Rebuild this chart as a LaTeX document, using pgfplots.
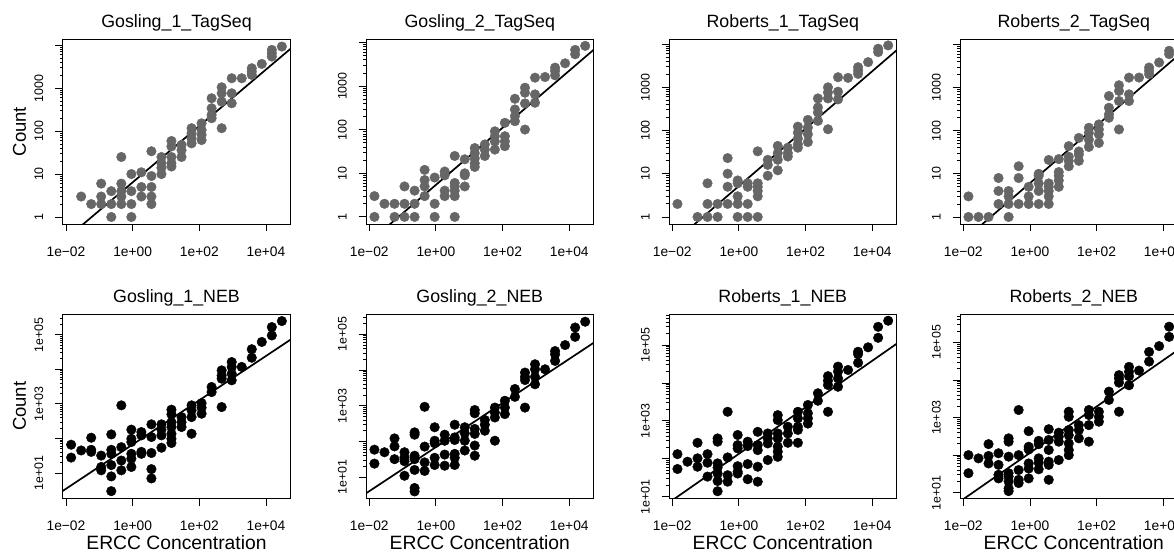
\documentclass[border=0pt]{standalone}
\usepackage{pgfplots}
\pgfplotsset{compat=1.18}
\usepackage{fontspec}
\setmainfont{Liberation Sans}
\definecolor{dotgray}{HTML}{666666}

\pgfplotsset{
  /pgfplots/erccaxis/.style={
    /pgfplots/scale only axis, /pgfplots/width=227.6pt,
    /pgfplots/xmin=0.00798, /pgfplots/xmax=53700,
    /pgfplots/xtick={0.01,1,100,10000},
    /pgfplots/xticklabels={1e−02,1e+00,1e+02,1e+04},
    /pgfplots/minor xtick={}, /pgfplots/minor ytick={},
    /pgfplots/tick align=outside, /pgfplots/tick pos=left,
    /pgfplots/major tick length=7.5pt,
    /pgfplots/every tick/.append style={black, line width=0.9pt},
    /pgfplots/axis line style={line width=0.9pt},
    /pgfplots/xticklabel style={font=\fontsize{13.8}{16}\selectfont, anchor=base, yshift=-25pt},
    /pgfplots/yticklabel style={font=\fontsize{12.4}{15}\selectfont, anchor=base, xshift=-12pt, rotate=90},
    /pgfplots/title style={font=\fontsize{17.8}{20}\selectfont, at={(0.5,1)}, anchor=base, yshift=5.5pt, inner sep=0pt},
    /pgfplots/xlabel style={font=\fontsize{19.3}{22}\selectfont, at={(0.5,0)}, anchor=base, yshift=-51.5pt},
    /pgfplots/ylabel style={font=\fontsize{18.5}{22}\selectfont, at={(0,0.5)}, anchor=base, yshift=36.7pt},
  },
}

\begin{document}
\begin{tikzpicture}

% ---------- TagSeq row ----------
\begin{loglogaxis}[erccaxis, height=184.7pt, ymin=0.687, ymax=13800,
  ytick={1,10,100,1000,10000}, yticklabels={1,10,100,1000,{}},
  at={(62.7pt,328pt)}, anchor=south west,
  title={Gosling\_1\_TagSeq}, ylabel={Count}]
\addplot[only marks, mark=*, mark size=4.8pt, color=dotgray] coordinates {
(0.0286,3) (0.0572,2)
(0.114,6) (0.114,3) (0.114,2)
(0.229,4) (0.229,2) (0.229,1)
(0.458,25) (0.458,6) (0.458,4) (0.458,3) (0.458,2)
(0.916,10) (0.916,4) (0.916,2) (0.916,1)
(1.83,11) (1.83,5) (1.83,3)
(3.66,34) (3.66,9) (3.66,5) (3.66,3) (3.66,2)
(7.32,25) (7.32,18) (7.32,14) (7.32,10)
(14.6,59) (14.6,44) (14.6,25) (14.6,18) (14.6,15)
(29.3,48) (29.3,36) (29.3,25)
(58.6,117) (58.6,89) (58.6,68) (58.6,52)
(117,152) (117,107) (117,82) (117,62)
(234,584) (234,341) (234,239) (234,200)
(469,1054) (469,763) (469,488) (469,117)
(938,1708) (938,763) (938,446)
(1875,1708)
(3750,2920) (3750,2443) (3750,2042)
(7500,3680)
(15000,7810) (15000,6530) (15000,5460)
(30000,9340)
};
\addplot[black, line width=1.7pt, no marks] coordinates {(0.005012,0.198) (100000,12360)};
\end{loglogaxis}

\begin{loglogaxis}[erccaxis, height=184.7pt, ymin=0.687, ymax=11900,
  ytick={1,10,100,1000,10000}, yticklabels={1,10,100,1000,{}},
  at={(366pt,328pt)}, anchor=south west,
  title={Gosling\_2\_TagSeq}]
\addplot[only marks, mark=*, mark size=4.8pt, color=dotgray] coordinates {
(0.0143,3) (0.0143,1)
(0.0286,2)
(0.0572,2) (0.0572,1)
(0.114,5) (0.114,2) (0.114,1)
(0.229,4) (0.229,2) (0.229,1)
(0.458,12) (0.458,7) (0.458,5) (0.458,3)
(0.916,8) (0.916,2) (0.916,1)
(1.83,11) (1.83,9) (1.83,4) (1.83,3)
(3.66,25) (3.66,6) (3.66,5) (3.66,4) (3.66,3) (3.66,1)
(7.32,21) (7.32,10) (7.32,9) (7.32,5)
(14.6,38) (14.6,29) (14.6,22) (14.6,17) (14.6,14)
(29.3,46) (29.3,35) (29.3,25)
(58.6,92) (58.6,71) (58.6,54) (58.6,35)
(117,144) (117,71) (117,54) (117,42)
(234,514) (234,292) (234,205) (234,157)
(469,922) (469,707) (469,402) (469,101)
(938,1567) (938,647) (938,416)
(1875,1623)
(3750,2663) (3750,2233) (3750,1774)
(7500,3350)
(15000,6800) (15000,5400)
(30000,8410)
};
\addplot[black, line width=1.7pt, no marks] coordinates {(0.005012,0.1696) (100000,10256)};
\end{loglogaxis}

\begin{loglogaxis}[erccaxis, height=184.7pt, ymin=0.687, ymax=12900,
  ytick={1,10,100,1000,10000}, yticklabels={1,10,100,1000,{}},
  at={(669pt,328pt)}, anchor=south west,
  title={Roberts\_1\_TagSeq}]
\addplot[only marks, mark=*, mark size=4.8pt, color=dotgray] coordinates {
(0.0143,2)
(0.0572,1)
(0.114,6) (0.114,2) (0.114,1)
(0.229,2) (0.229,1)
(0.458,23) (0.458,10) (0.458,5) (0.458,2)
(0.916,7) (0.916,6) (0.916,3) (0.916,2) (0.916,1)
(1.83,6) (1.83,5) (1.83,2) (1.83,1)
(3.66,33) (3.66,6) (3.66,5) (3.66,4) (3.66,3) (3.66,1)
(7.32,21) (7.32,16) (7.32,9)
(14.6,44) (14.6,30) (14.6,21) (14.6,12)
(29.3,40) (29.3,30) (29.3,25)
(58.6,123) (58.6,89) (58.6,65) (58.6,48) (58.6,40)
(117,176) (117,117) (117,82) (117,54)
(234,553) (234,341) (234,261) (234,167)
(469,998) (469,763) (469,553) (469,107)
(938,1708) (938,791) (938,525)
(1875,1650)
(3750,2920) (3750,2443) (3750,2042)
(7500,3820)
(15000,7810) (15000,6530)
(30000,9300)
};
\addplot[black, line width=1.7pt, no marks] coordinates {(0.005012,0.1545) (100000,10864)};
\end{loglogaxis}

\begin{loglogaxis}[erccaxis, height=184.7pt, ymin=0.687, ymax=13180,
  ytick={1,10,100,1000,10000}, yticklabels={1,10,100,1000,{}},
  at={(960pt,328pt)}, anchor=south west,
  title={Roberts\_2\_TagSeq}]
\addplot[only marks, mark=*, mark size=4.8pt, color=dotgray] coordinates {
(0.0143,3) (0.0143,1)
(0.0286,1)
(0.0572,1)
(0.114,8) (0.114,4) (0.114,2)
(0.229,4) (0.229,3) (0.229,2) (0.229,1)
(0.458,15) (0.458,8) (0.458,2)
(0.916,5) (0.916,3) (0.916,2)
(1.83,10) (1.83,9) (1.83,6) (1.83,4) (1.83,2)
(3.66,21) (3.66,6) (3.66,5) (3.66,4) (3.66,3) (3.66,2)
(7.32,22) (7.32,11) (7.32,9) (7.32,7) (7.32,5)
(14.6,44) (14.6,25) (14.6,20) (14.6,15)
(29.3,68) (29.3,33) (29.3,28) (29.3,20)
(58.6,117) (58.6,89) (58.6,62) (58.6,42)
(117,140) (117,107) (117,82) (117,52)
(234,638) (234,341) (234,239) (234,200)
(469,1132) (469,835) (469,488) (469,107)
(938,1700) (938,698) (938,488)
(1875,1708)
(3750,2920) (3750,2443) (3750,2042)
(7500,3820)
(15000,7140) (15000,5970)
(30000,9300)
};
\addplot[black, line width=1.7pt, no marks] coordinates {(0.005012,0.179) (100000,13032)};
\end{loglogaxis}

% ---------- NEB row ----------
\begin{loglogaxis}[erccaxis, height=184pt, ymin=1.862, ymax=389000,
  ytick={10,100,1000,10000,100000,1000000}, yticklabels={1e+01,{},1e+03,{},1e+05,{}},
  at={(62.7pt,53.7pt)}, anchor=south west,
  title={Gosling\_1\_NEB}, ylabel={Count}, xlabel={ERCC Concentration}]
\addplot[only marks, mark=*, mark size=4.8pt, color=black] coordinates {
(0.0143,66) (0.0143,28)
(0.0286,45)
(0.0572,105) (0.0572,47) (0.0572,41)
(0.114,32) (0.114,15) (0.114,12)
(0.229,131) (0.229,47) (0.229,36) (0.229,17) (0.229,8) (0.229,3)
(0.458,906) (0.458,56) (0.458,23) (0.458,12)
(0.916,180) (0.916,98) (0.916,79) (0.916,36) (0.916,26) (0.916,15)
(1.83,153) (1.83,123) (1.83,41) (1.83,36)
(3.66,256) (3.66,110) (3.66,38) (3.66,13) (3.66,7)
(7.32,256) (7.32,180) (7.32,123) (7.32,54)
(14.6,680) (14.6,500) (14.6,295) (14.6,214) (14.6,137) (14.6,98) (14.6,74)
(29.3,415) (29.3,295) (29.3,214)
(58.6,906) (58.6,650) (58.6,415) (58.6,137)
(117,1050) (117,775) (117,520)
(234,3080) (234,2190)
(469,9300) (469,6600) (469,5350) (469,810)
(938,16200) (938,11700) (938,7450) (938,4800)
(1875,11700)
(3750,38000) (3750,21600)
(7500,61700)
(15000,166000) (15000,95000)
(30000,248000)
};
\addplot[black, line width=1.7pt, no marks] coordinates {(0.005012,2.254) (100000,105925)};
\end{loglogaxis}

\begin{loglogaxis}[erccaxis, height=184pt, ymin=2.57, ymax=363000,
  ytick={10,100,1000,10000,100000,1000000}, yticklabels={1e+01,{},1e+03,{},1e+05,{}},
  at={(366pt,53.7pt)}, anchor=south west,
  title={Gosling\_2\_NEB}, xlabel={ERCC Concentration}]
\addplot[only marks, mark=*, mark size=4.8pt, color=black] coordinates {
(0.0143,59) (0.0143,24)
(0.0286,50)
(0.0572,122) (0.0572,73) (0.0572,32)
(0.114,50) (0.114,36) (0.114,28) (0.114,11)
(0.229,180) (0.229,155) (0.229,40) (0.229,32) (0.229,16) (0.229,5) (0.229,4)
(0.458,935) (0.458,72) (0.458,26) (0.458,15)
(0.916,250) (0.916,105) (0.916,89) (0.916,35) (0.916,22)
(1.83,155) (1.83,105) (1.83,43) (1.83,21)
(3.66,295) (3.66,130) (3.66,110) (3.66,45) (3.66,35) (3.66,22)
(7.32,250) (7.32,170) (7.32,105) (7.32,56)
(14.6,760) (14.6,615) (14.6,225) (14.6,163) (14.6,77) (14.6,40)
(29.3,400) (29.3,295) (29.3,200)
(58.6,890) (58.6,645) (58.6,470) (58.6,105)
(117,1380) (117,890) (117,585)
(234,2950) (234,1780)
(469,8500) (469,6450) (469,5250) (469,890)
(938,14500) (938,10500) (938,6450) (938,4000)
(1875,10500)
(3750,34000) (3750,27500) (3750,18000)
(7500,50000)
(15000,155000) (15000,85000)
(30000,225000)
};
\addplot[black, line width=1.7pt, no marks] coordinates {(0.005012,2.654) (100000,84723)};
\end{loglogaxis}

\begin{loglogaxis}[erccaxis, height=184pt, ymin=9.12, ymax=645000,
  ytick={10,100,1000,10000,100000,1000000}, yticklabels={1e+01,{},1e+03,{},1e+05,{}},
  at={(669pt,53.7pt)}, anchor=south west,
  title={Roberts\_1\_NEB}, xlabel={ERCC Concentration}]
\addplot[only marks, mark=*, mark size=4.8pt, color=black] coordinates {
(0.0143,133) (0.0143,54)
(0.0286,84)
(0.0572,265) (0.0572,103) (0.0572,62)
(0.114,133) (0.114,79) (0.114,34)
(0.229,345) (0.229,283) (0.229,76) (0.229,59) (0.229,41) (0.229,26) (0.229,14)
(0.458,1740) (0.458,109) (0.458,37) (0.458,25)
(0.916,425) (0.916,230) (0.916,188) (0.916,64) (0.916,46) (0.916,41)
(1.83,283) (1.83,217) (1.83,73) (1.83,29)
(3.66,515) (3.66,230) (3.66,170) (3.66,62) (3.66,25)
(7.32,466) (7.32,345) (7.32,255) (7.32,93)
(14.6,1420) (14.6,1050) (14.6,466) (14.6,345) (14.6,210) (14.6,155) (14.6,113)
(29.3,700) (29.3,466) (29.3,265)
(58.6,1740) (58.6,1170) (58.6,700) (58.6,578) (58.6,265)
(117,2630) (117,1590) (117,1170) (117,850)
(234,5350) (234,3400)
(469,15100) (469,11500) (469,8850) (469,1740)
(938,27000) (938,20000) (938,13200) (938,7950)
(1875,22000)
(3750,66500) (3750,57500) (3750,34000)
(7500,87000)
(15000,302000) (15000,155000)
(30000,436000)
};
\addplot[black, line width=1.7pt, no marks] coordinates {(0.005012,5.284) (100000,157761)};
\end{loglogaxis}

\begin{loglogaxis}[erccaxis, height=184pt, ymin=7.08, ymax=562000,
  ytick={10,100,1000,10000,100000,1000000}, yticklabels={1e+01,{},1e+03,{},1e+05,{}},
  at={(960pt,53.7pt)}, anchor=south west,
  title={Roberts\_2\_NEB}, xlabel={ERCC Concentration}]
\addplot[only marks, mark=*, mark size=4.8pt, color=black] coordinates {
(0.0143,100) (0.0143,33)
(0.0286,82)
(0.0572,196) (0.0572,95) (0.0572,60)
(0.114,112) (0.114,55) (0.114,30) (0.114,24)
(0.229,280) (0.229,228) (0.229,91) (0.229,33) (0.229,27) (0.229,20) (0.229,13) (0.229,11)
(0.458,1590) (0.458,100) (0.458,40) (0.458,22) (0.458,18)
(0.916,435) (0.916,167) (0.916,141) (0.916,60) (0.916,44) (0.916,24)
(1.83,240) (1.83,196) (1.83,82) (1.83,63) (1.83,42)
(3.66,490) (3.66,253) (3.66,137) (3.66,67) (3.66,55) (3.66,22)
(7.32,395) (7.32,309) (7.32,228) (7.32,74)
(14.6,1430) (14.6,1050) (14.6,466) (14.6,340) (14.6,205) (14.6,137) (14.6,100)
(29.3,630) (29.3,466) (29.3,280)
(58.6,1590) (58.6,1170) (58.6,630) (58.6,228)
(117,1430) (117,1050) (117,775)
(234,4900) (234,2950)
(469,13500) (469,11000) (469,8500) (469,1430)
(938,22400) (938,16600) (938,12600) (938,7250)
(1875,17800)
(3750,56000) (3750,31000)
(7500,80000)
(15000,263000) (15000,141000)
(30000,400000)
};
\addplot[black, line width=1.7pt, no marks] coordinates {(0.005012,4.375) (100000,139637)};
\end{loglogaxis}

\pgfresetboundingbox
\path[use as bounding box] (0pt,0pt) rectangle (1174pt,552pt);
\end{tikzpicture}
\end{document}
